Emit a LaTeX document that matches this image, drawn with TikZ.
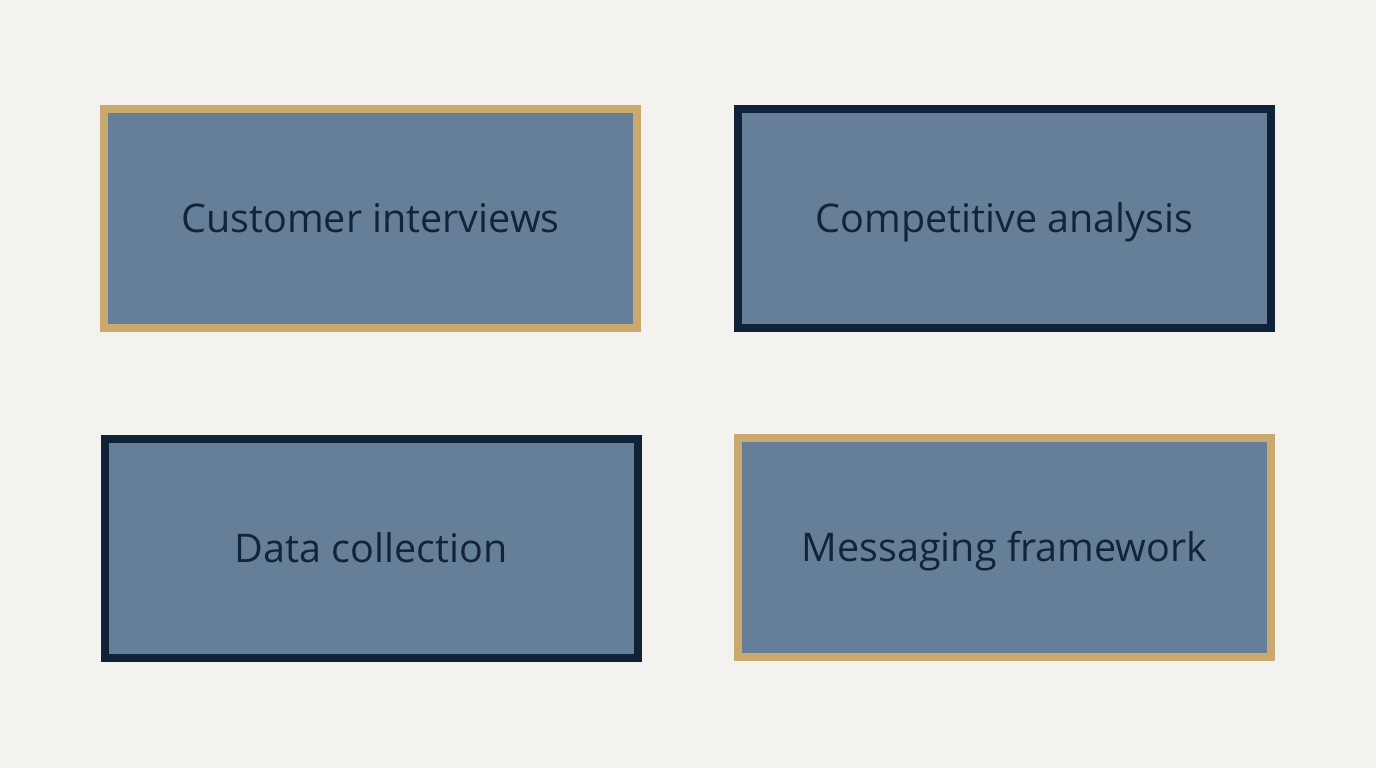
\documentclass[tikz,border=0pt]{standalone}
\usepackage{fontspec}
\setmainfont{Open Sans}
\definecolor{bg}{HTML}{F3F2EE}
\definecolor{boxfill}{HTML}{667F99}
\definecolor{gold}{HTML}{C9A96E}
\definecolor{navy}{HTML}{0F2238}
\definecolor{txt}{HTML}{13233A}
\begin{document}
\begin{tikzpicture}[x=1pt,y=-1pt,
  card/.style={fill=boxfill,line width=8pt,minimum width=533pt,minimum height=219pt,inner sep=0pt,
    font=\fontsize{39.5}{46}\selectfont,text=txt,text height=28pt,text depth=0pt},
  goldcard/.style={card,draw=gold},
  navycard/.style={card,draw=navy}]
\fill[bg] (0,0) rectangle (1376,768);
\useasboundingbox (0,0) rectangle (1376,768);
\node[goldcard] (ci) at (370.5,218.5) {Customer interviews};
\node[navycard] (ca) at (1004.5,218.5) {Competitive analysis};
\node[navycard] (dc) at (371,548) {Data collection};
\node[goldcard] (mf) at (1004.5,547.5) {Messaging framework};
\end{tikzpicture}
\end{document}
